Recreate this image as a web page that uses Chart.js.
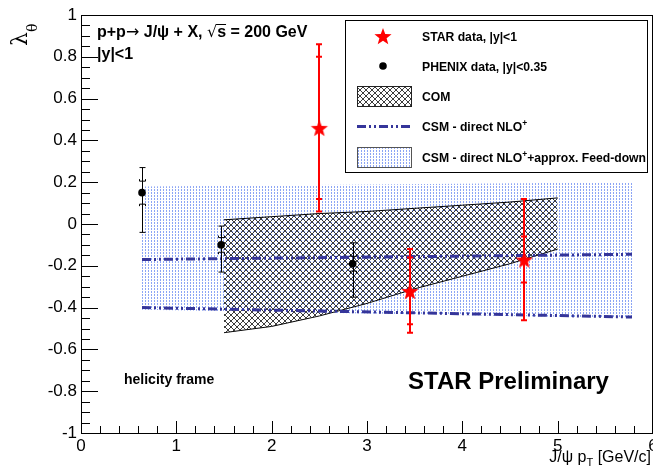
<!DOCTYPE html>
<html><head><meta charset="utf-8">
<script src="https://cdn.jsdelivr.net/npm/chart.js@4"></script>
<style>html,body{margin:0;padding:0;background:#fff;overflow:hidden}#wrap{width:653px;height:469px}</style>
</head><body><div id="wrap"><canvas id="c"></canvas></div>
<script>
// ---- STAR data ----
const starPt = [2.5, 3.45, 4.65];
const starLambda = [0.46, -0.32, -0.17];
const starErrTot = [0.40, 0.20, 0.29];
const starErrIn = [0.34, 0.16, 0.11];
// ---- PHENIX data ----
const phenixPt = [0.64, 1.47, 2.85];
const phenixLambda = [0.15, -0.10, -0.19];
const phenixErrUp = [0.12, 0.09, 0.10];
const phenixErrDn = [0.19, 0.13, 0.16];
const phenixErrIn = [0.055, 0.035, 0.035];
// ---- COM band ----
const comPt = [1.5, 2.0, 2.5, 3.0, 3.5, 4.0, 4.5, 5.0];
const comUpper = [0.02, 0.035, 0.05, 0.06, 0.075, 0.09, 0.105, 0.125];
const comLower = [-0.52, -0.49, -0.44, -0.38, -0.31, -0.25, -0.19, -0.12];
// ---- CSM direct NLO+ ----
const csmPt = [0.64, 5.78];
const csmUpper = [-0.17, -0.145];
const csmLower = [-0.40, -0.445];
// ---- CSM + feed-down band ----
const fdPt = [0.64, 5.78];
const fdUpper = [0.18, 0.20];
const fdLower = [-0.41, -0.45];
// ---- axes ----
const xTickValues = [0, 1, 2, 3, 4, 5, 6];
const xTickLabels = ['0', '1', '2', '3', '4', '5', '6'];
const yTickStep = 0.2;

const FONT = '"Liberation Sans", Arial, Helvetica, sans-serif';
const CSM_COLOR = '#35359a';
const CSM_DASH = [9, 3, 2, 3, 2, 3];

function xy(xs, ys) { return xs.map((x, i) => ({x: x, y: ys[i]})); }

function makeStar(r) {
  const c = document.createElement('canvas');
  const s = Math.ceil(r * 2 + 2);
  c.width = s; c.height = s;
  const g = c.getContext('2d');
  g.fillStyle = '#ff0000';
  g.beginPath();
  for (let i = 0; i < 10; i++) {
    const rad = i % 2 ? r * 0.42 : r;
    const a = -Math.PI / 2 + i * Math.PI / 5;
    g.lineTo(s / 2 + rad * Math.cos(a), s / 2 + 1 + rad * Math.sin(a));
  }
  g.closePath(); g.fill();
  return c;
}
function makeDots() {
  const t = document.createElement('canvas');
  t.width = 3; t.height = 3;
  const g = t.getContext('2d');
  g.fillStyle = 'rgb(140,165,245)';
  g.fillRect(1, 0, 1, 2);
  return document.createElement('canvas').getContext('2d').createPattern(t, 'repeat');
}
function makeHatch() {
  const t = document.createElement('canvas');
  t.width = 6; t.height = 6;
  const g = t.getContext('2d');
  g.strokeStyle = 'rgba(40,40,40,0.9)';
  g.lineWidth = 1;
  g.beginPath();
  g.moveTo(-1, -1); g.lineTo(7, 7);
  g.moveTo(-1, 7); g.lineTo(7, -1);
  g.stroke();
  return document.createElement('canvas').getContext('2d').createPattern(t, 'repeat');
}
const starImg = makeStar(9);
const dotPattern = makeDots();
const hatchPattern = makeHatch();

const decor = {
  id: 'decor',
  afterDatasetsDraw(chart) {
    const ctx = chart.ctx, xs = chart.scales.x, ys = chart.scales.y;
    ctx.save();
    // STAR error bars
    ctx.strokeStyle = '#ff0000'; ctx.lineWidth = 2;
    starPt.forEach((x, i) => {
      const px = Math.round(xs.getPixelForValue(x));
      const top = ys.getPixelForValue(starLambda[i] + starErrTot[i]);
      const bot = ys.getPixelForValue(starLambda[i] - starErrTot[i]);
      const it = ys.getPixelForValue(starLambda[i] + starErrIn[i]);
      const ib = ys.getPixelForValue(starLambda[i] - starErrIn[i]);
      ctx.beginPath();
      ctx.moveTo(px, top); ctx.lineTo(px, bot);
      ctx.moveTo(px - 3, top); ctx.lineTo(px + 3, top);
      ctx.moveTo(px - 3, bot); ctx.lineTo(px + 3, bot);
      ctx.moveTo(px - 3, it); ctx.lineTo(px + 3, it);
      ctx.moveTo(px - 3, ib); ctx.lineTo(px + 3, ib);
      ctx.stroke();
    });
    // PHENIX error bars
    ctx.strokeStyle = '#000'; ctx.lineWidth = 1;
    phenixPt.forEach((x, i) => {
      const px = Math.round(xs.getPixelForValue(x)) + 0.5;
      const top = ys.getPixelForValue(phenixLambda[i] + phenixErrUp[i]);
      const bot = ys.getPixelForValue(phenixLambda[i] - phenixErrDn[i]);
      const it = ys.getPixelForValue(phenixLambda[i] + phenixErrIn[i]);
      const ib = ys.getPixelForValue(phenixLambda[i] - phenixErrIn[i]);
      ctx.beginPath();
      ctx.moveTo(px, top); ctx.lineTo(px, bot);
      ctx.moveTo(px - 3, top); ctx.lineTo(px + 3, top);
      ctx.moveTo(px - 3, bot); ctx.lineTo(px + 3, bot);
      ctx.moveTo(px - 3, it - 2); ctx.lineTo(px - 3, it); ctx.lineTo(px + 3, it); ctx.lineTo(px + 3, it - 2);
      ctx.moveTo(px - 3, ib + 2); ctx.lineTo(px - 3, ib); ctx.lineTo(px + 3, ib); ctx.lineTo(px + 3, ib + 2);
      ctx.stroke();
    });
    ctx.restore();
  },
  afterDraw(chart) {
    const ctx = chart.ctx, a = chart.chartArea, xs = chart.scales.x, ys = chart.scales.y;
    ctx.save();
    // frame
    ctx.strokeStyle = '#000'; ctx.lineWidth = 1;
    ctx.strokeRect(Math.round(a.left) + 0.5, Math.round(a.top) + 0.5, Math.round(a.right - a.left) - 1, Math.round(a.bottom - a.top));
    // ticks
    ctx.beginPath();
    for (let k = 0; k <= 40; k++) {
      const v = -1 + k * 0.05;
      const py = Math.round(ys.getPixelForValue(v)) + 0.5;
      const len = (k % 4 === 0) ? 17 : 9;
      ctx.moveTo(a.left, py); ctx.lineTo(a.left + len, py);
    }
    for (let k = 0; k <= 30; k++) {
      const v = k * 0.2;
      const px = Math.round(xs.getPixelForValue(v)) + 0.5;
      const len = (k % 5 === 0) ? 12 : 7;
      ctx.moveTo(px, a.bottom); ctx.lineTo(px, a.bottom - len);
    }
    ctx.stroke();

    ctx.fillStyle = '#000';
    // x tick labels
    ctx.font = '17px ' + FONT;
    ctx.textAlign = 'center';
    ctx.textBaseline = 'alphabetic';
    xTickValues.forEach((v, i) => {
      ctx.fillText(xTickLabels[i], xs.getPixelForValue(v), a.bottom + 18);
    });

    ctx.textAlign = 'left';
    // process label
    let x = 97;
    const parts = [
      ['bold 16px ' + FONT, 'p+p'],
      ['16px "DejaVu Sans", ' + FONT, '\u2192'],
      ['bold 16px ' + FONT, ' J/\u03C8 + X, '],
      ['16px "DejaVu Sans", ' + FONT, '\u221A'],
      ['bold 16px ' + FONT, 's', true],
      ['bold 16px ' + FONT, ' = 200 GeV']
    ];
    parts.forEach(p => {
      ctx.font = p[0];
      const w = ctx.measureText(p[1]).width;
      ctx.fillText(p[1], x, 37);
      if (p[2]) { ctx.fillRect(x - 1, 24, w + 1, 1); }
      x += w;
    });
    ctx.font = 'bold 16px ' + FONT;
    ctx.fillText('|y|<1', 97, 59);
    ctx.font = 'bold 14px ' + FONT;
    ctx.fillText('helicity frame', 124, 384);
    ctx.font = 'bold 24px ' + FONT;
    ctx.fillText('STAR Preliminary', 408, 389);

    // y title
    ctx.save();
    ctx.translate(27, 46);
    ctx.rotate(-Math.PI / 2);
    ctx.font = '22px "DejaVu Serif", "Liberation Serif", serif';
    ctx.fillText('\u03BB', 0, 0);
    ctx.font = '14px "DejaVu Serif", "Liberation Serif", serif';
    ctx.fillText('\u03B8', 14, 10);
    ctx.restore();

    // x title
    ctx.font = '16px ' + FONT;
    const t1 = 'J/\u03C8 p', t3 = ' [GeV/c]';
    const w1 = ctx.measureText(t1).width, w3 = ctx.measureText(t3).width;
    ctx.font = '11px ' + FONT;
    const w2 = ctx.measureText('T').width;
    let sx = 651 - (w1 + w2 + w3);
    ctx.font = '16px ' + FONT;
    ctx.fillText(t1, sx, 462);
    ctx.font = '11px ' + FONT;
    ctx.fillText('T', sx + w1, 466);
    ctx.font = '16px ' + FONT;
    ctx.fillText(t3, sx + w1 + w2, 462);

    // legend
    const L = 345, T = 20, R = 647, B = 172;
    ctx.fillStyle = '#fff';
    ctx.fillRect(L, T, R - L, B - T);
    ctx.strokeStyle = '#000';
    ctx.strokeRect(L + 0.5, T + 0.5, R - L, B - T);
    ctx.drawImage(starImg, 383 - starImg.width / 2, 36 - starImg.height / 2);
    ctx.fillStyle = '#000';
    ctx.beginPath(); ctx.arc(383, 66, 3.8, 0, Math.PI * 2); ctx.fill();
    ctx.fillStyle = hatchPattern; ctx.fillRect(357, 86, 54, 20);
    ctx.strokeStyle = '#222'; ctx.strokeRect(357.5, 86.5, 54, 20);
    ctx.save();
    ctx.strokeStyle = CSM_COLOR; ctx.lineWidth = 3; ctx.setLineDash(CSM_DASH);
    ctx.beginPath(); ctx.moveTo(357, 126.5); ctx.lineTo(411, 126.5); ctx.stroke();
    ctx.restore();
    ctx.fillStyle = '#fff'; ctx.fillRect(357, 147, 54, 20);
    ctx.fillStyle = dotPattern; ctx.fillRect(357, 147, 54, 20);
    ctx.strokeStyle = '#555'; ctx.strokeRect(357.5, 147.5, 54, 20);

    ctx.fillStyle = '#000';
    const lf = 'bold 12.2px ' + FONT;
    ctx.font = lf;
    ctx.fillText('STAR data, |y|<1', 422, 40.5);
    ctx.fillText('PHENIX data, |y|<0.35', 422, 70.5);
    ctx.fillText('COM', 422, 100.5);
    const drawNlo = (y, suffix) => {
      ctx.font = lf;
      const s = 'CSM - direct NLO';
      ctx.fillText(s, 422, y);
      let xx = 422 + ctx.measureText(s).width;
      ctx.font = 'bold 8.5px ' + FONT;
      ctx.fillText('+', xx, y - 5);
      xx += ctx.measureText('+').width;
      if (suffix) { ctx.font = lf; ctx.fillText(suffix, xx, y); }
    };
    drawNlo(130.5, '');
    drawNlo(161.5, '+approx. Feed-down');
    ctx.restore();
  }
};

new Chart(document.getElementById('c'), {
  type: 'line',
  data: {
    datasets: [
      { label: 'STAR data, |y|<1', data: xy(starPt, starLambda), showLine: false,
        pointStyle: starImg, pointRadius: 9, order: 0 },
      { label: 'PHENIX data, |y|<0.35', data: xy(phenixPt, phenixLambda), showLine: false,
        pointStyle: 'circle', pointRadius: 3.8, pointBorderWidth: 0,
        pointBackgroundColor: '#000', order: 0 },
      { label: 'CSM - direct NLO+ upper', data: xy(csmPt, csmUpper), borderColor: CSM_COLOR,
        borderWidth: 3, borderDash: CSM_DASH, pointRadius: 0, fill: false, order: 1 },
      { label: 'CSM - direct NLO+ lower', data: xy(csmPt, csmLower), borderColor: CSM_COLOR,
        borderWidth: 3, borderDash: CSM_DASH, pointRadius: 0, fill: false, order: 1 },
      { label: 'COM upper', data: xy(comPt, comUpper), borderColor: '#000', borderWidth: 1,
        pointRadius: 0, fill: 5, backgroundColor: hatchPattern, order: 2 },
      { label: 'COM lower', data: xy(comPt, comLower), borderColor: '#000', borderWidth: 1,
        pointRadius: 0, fill: false, order: 2 },
      { label: 'Feed-down upper', data: xy(fdPt, fdUpper), borderWidth: 0, borderColor: 'rgba(0,0,0,0)',
        pointRadius: 0, fill: 7, backgroundColor: dotPattern, order: 3 },
      { label: 'Feed-down lower', data: xy(fdPt, fdLower), borderWidth: 0, borderColor: 'rgba(0,0,0,0)',
        pointRadius: 0, fill: false, order: 3 }
    ]
  },
  options: {
    responsive: true, maintainAspectRatio: false, animation: false,
    layout: { autoPadding: false, padding: { top: 15, right: 0, left: 0, bottom: 0 } },
    plugins: { legend: { display: false }, tooltip: { enabled: false } },
    scales: {
      x: {
        type: 'linear', min: 0, max: 6,
        grid: { display: false, drawTicks: false }, border: { display: false },
        ticks: { display: false },
        afterFit: s => { s.height = 36; s.paddingLeft = 0; s.paddingRight = 0; }
      },
      y: {
        type: 'linear', min: -1, max: 1,
        grid: { display: false, drawTicks: false }, border: { display: false },
        ticks: { stepSize: yTickStep, font: { family: FONT, size: 17 }, color: '#000', padding: 4,
                 callback: v => String(Math.round(v * 10) / 10) },
        afterFit: s => { s.width = 81; s.paddingTop = 0; s.paddingBottom = 0; }
      }
    }
  },
  plugins: [decor]
});
</script>
</body></html>
